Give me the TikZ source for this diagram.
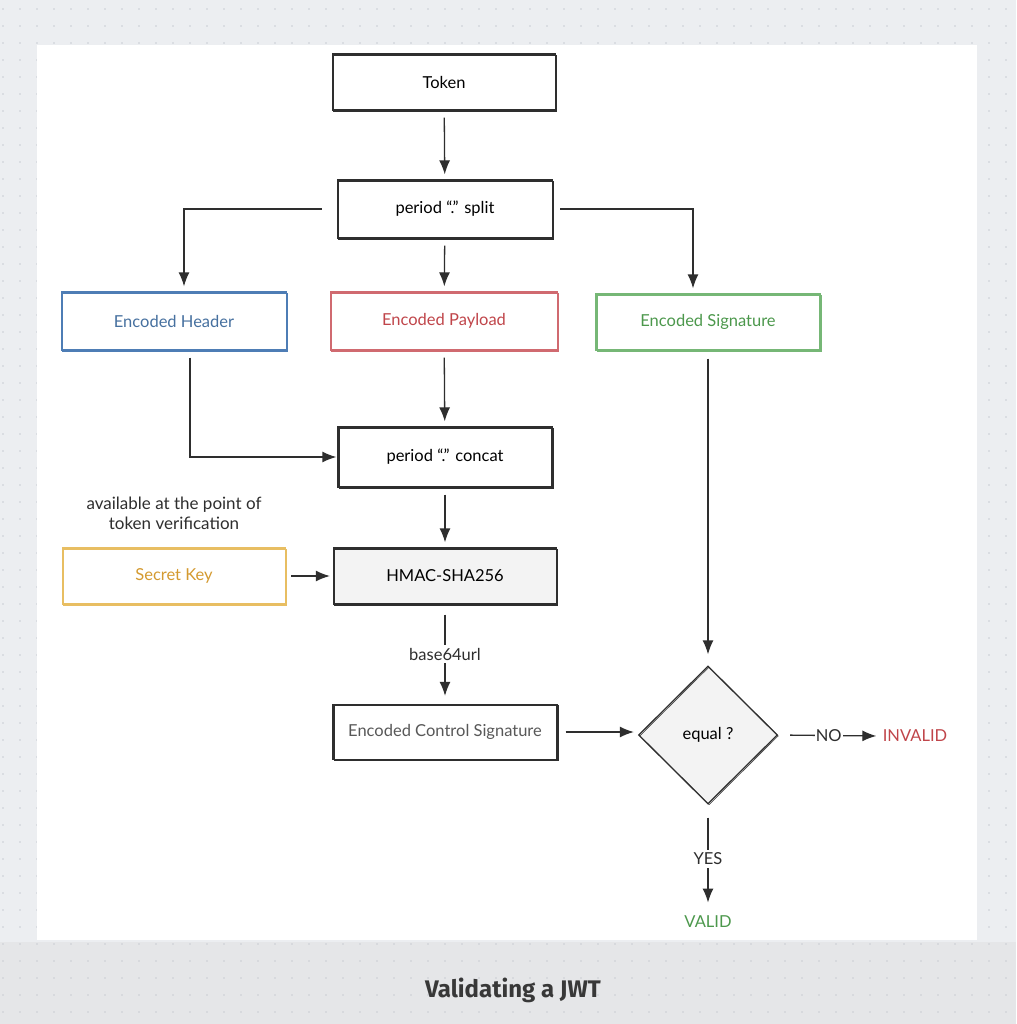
\documentclass[tikz,border=0pt]{standalone}
\usepackage{fontspec}
\setmainfont{Lato}
\newfontfamily\titlefont{Fira Sans}
\usetikzlibrary{arrows.meta,shapes.geometric}

\definecolor{pagebg}{HTML}{ECEEF1}
\definecolor{bandbg}{HTML}{E5E6E8}
\definecolor{dotc}{HTML}{C9CDD3}
\definecolor{ink}{HTML}{2E2E2E}
\definecolor{hblue}{HTML}{4E7DB5}
\definecolor{hbluet}{HTML}{46709F}
\definecolor{pred}{HTML}{D06A70}
\definecolor{predt}{HTML}{C0454A}
\definecolor{sgreen}{HTML}{76B776}
\definecolor{sgreent}{HTML}{4C984C}
\definecolor{korange}{HTML}{E8BE62}
\definecolor{korangt}{HTML}{D49A30}
\definecolor{boxfill}{HTML}{F3F3F3}

\tikzset{
  sketch/.style={postaction={draw, line width=0.5pt,
      transform canvas={shift={(1pt,-0.9pt)}}}},
  txt/.style={font=\fontsize{16.5}{19}\selectfont},
  box/.style={draw=#1, line width=1.3pt, minimum width=223pt, minimum height=56pt,
      inner sep=0pt, txt, sketch},
  box/.default=ink,
  conn/.style={draw=ink, line width=1.3pt, shorten <=7pt, shorten >=5pt,
      -{Latex[length=14pt,width=11pt]}},
  lbl/.style={txt, text=ink, fill=white, inner sep=3pt},
}

\begin{document}
\begin{tikzpicture}[x=1pt,y=-1pt]
  \useasboundingbox (0,0) rectangle (1016,1024);
  % page background with dotted grid
  \fill[pagebg] (0,0) rectangle (1016,1024);
  \fill[bandbg] (0,942) rectangle (1016,1024);
  \foreach \i in {0,...,59}{
    \foreach \j in {0,...,60}{
      \fill[dotc] (3+17*\i, 9+17*\j) circle (0.9pt);
    }
  }
  % drawing canvas
  \fill[white] (37,45) rectangle (977,940);

  % boxes
  \node[box] (token) at (444,82) {Token};
  \node[box, minimum width=215pt, minimum height=58pt] (split) at (445,209) {period ``.'' split};
  \node[box=hblue, minimum width=225pt, minimum height=58pt, text=hbluet] (hdr) at (174,321) {Encoded Header};
  \node[box=pred, minimum width=227pt, minimum height=58pt, text=predt] (pay) at (444,321) {Encoded Payload};
  \node[box=sgreen, minimum width=224pt, text=sgreent] (sig) at (708,322) {Encoded Signature};
  \node[box, minimum width=214pt, minimum height=60pt] (concat) at (445,457) {period ``.'' concat};
  \node[box=korange, text=korangt] (key) at (174,576) {Secret Key};
  \node[box, fill=boxfill] (hmac) at (445,576) {HMAC-SHA256};
  \node[box, minimum width=224pt, minimum height=55pt, text=ink!80] (ecs) at (445,732) {Encoded Control Signature};
  \node[draw=ink, line width=1.3pt, fill=boxfill, diamond, aspect=1, inner sep=0pt,
        minimum width=139pt, minimum height=138pt, txt, sketch]
        (dia) at (708,735) {equal ?};

  % free texts
  \node[font=\fontsize{17}{20}\selectfont, text=ink, align=center] (note) at (174,513)
       {available at the point of\\token verification};
  \node[txt, text=predt] (inv) at (915,736) {INVALID};
  \node[txt, text=sgreent] (valid) at (708,922) {VALID};

  % title
  \node[font=\titlefont\bfseries\fontsize{24}{28}\selectfont, text=ink!95] (title) at (513,990)
       {Validating a JWT};

  % connectors
  \draw[conn] (token) -- (split);
  \draw[conn, shorten <=15pt] (split.west) -| ([xshift=10pt]hdr.north);
  \draw[conn, shorten <=7pt] (split.east) -| ([xshift=-15pt]sig.north);
  \draw[conn] (split) -- (pay);
  \draw[conn] (pay) -- (concat);
  \draw[conn, shorten >=1pt] ([xshift=16pt]hdr.south) |- (concat.west);
  \draw[conn] (concat) -- (hmac);
  \draw[conn, shorten <=5pt, shorten >=3pt] (key.east) -- (key.east -| hmac.west);
  \draw[conn, shorten <=10pt, shorten >=8pt] (hmac) -- node[lbl] (b64) {base64url} (ecs);
  \draw[conn, shorten <=8pt, shorten >=4pt] (ecs.east) -- (ecs.east -| dia.west);
  \draw[conn, shorten <=8pt, shorten >=11pt] (sig) -- (dia);
  \draw[conn, shorten <=12pt, shorten >=3pt] (dia.east) -- node[lbl, inner sep=1pt] (no) {NO} (inv.west);
  \draw[conn, shorten <=13pt, shorten >=10pt] (dia) -- node[lbl] (yes) {YES} (valid);
\end{tikzpicture}
\end{document}
